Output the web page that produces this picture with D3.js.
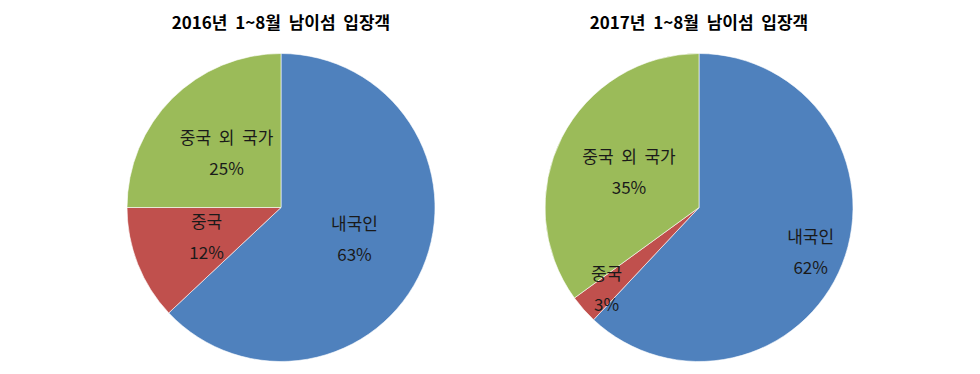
<!DOCTYPE html>
<html>
<head>
<meta charset="utf-8">
<script src="https://cdn.jsdelivr.net/npm/d3@7"></script>
<style>
  body { margin: 0; background: #fff; }
  text { font-family: "Noto Sans CJK KR", "Noto Sans", sans-serif; }
</style>
</head>
<body>
<div id="container"></div>
<script>
let width = 980;
let height = 374;

// data
let categories = ["내국인", "중국", "중국 외 국가"];
let titles = ["2016년 1~8월 남이섬 입장객", "2017년 1~8월 남이섬 입장객"];
let values2016 = [63, 12, 25];
let values2017 = [62, 3, 35];
let colors = ["#4F81BD", "#C0504D", "#9BBB59"];

// label distance from center, as fraction of radius (excel "best fit")
let labelPos2016 = [0.52, 0.52, 0.5];
let labelPos2017 = [0.78, 0.8, 0.51];

let svg = d3.select("#container")
  .append("svg")
  .attr("width", width)
  .attr("height", height);

let radius = 154;

function drawPie(cx, cy, title, values, labelPos) {
  let g = svg.append("g").attr("transform", `translate(${cx},${cy})`);

  let pie = d3.pie().sort(null).value(d => d);
  let arcs = pie(values);

  let arc = d3.arc().innerRadius(0).outerRadius(radius);

  g.selectAll("path.slice")
    .data(arcs)
    .enter().append("path")
    .attr("class", "slice")
    .attr("d", arc)
    .attr("fill", (d, i) => colors[i])
    .attr("stroke", "#fff")
    .attr("stroke-width", 0.6);

  let lab = g.selectAll("g.lab")
    .data(arcs)
    .enter().append("g")
    .attr("class", "lab")
    .attr("transform", function (d, i) {
      let a = (d.startAngle + d.endAngle) / 2;
      let r = radius * labelPos[i];
      return `translate(${Math.sin(a) * r},${-Math.cos(a) * r})`;
    });

  lab.append("text")
    .attr("text-anchor", "middle")
    .attr("y", -9)
    .style("font-size", "17px")
    .attr("fill", "#1a1a1a")
    .attr("xml:space", "preserve")
    .text((d, i) => categories[i].split(" ").join("  "));

  lab.append("text")
    .attr("text-anchor", "middle")
    .attr("y", 22)
    .style("font-size", "17px")
    .attr("fill", "#1a1a1a")
    .text(d => d.data + "%");

  svg.append("text")
    .attr("x", cx)
    .attr("y", 29)
    .attr("text-anchor", "middle")
    .attr("xml:space", "preserve")
    .style("font-size", "17px")
    .style("font-weight", "bold")
    .attr("fill", "#000")
    .text(title.split(" ").join("  "));
}

drawPie(281, 207.5, titles[0], values2016, labelPos2016);
drawPie(699, 207.5, titles[1], values2017, labelPos2017);
</script>
</body>
</html>
